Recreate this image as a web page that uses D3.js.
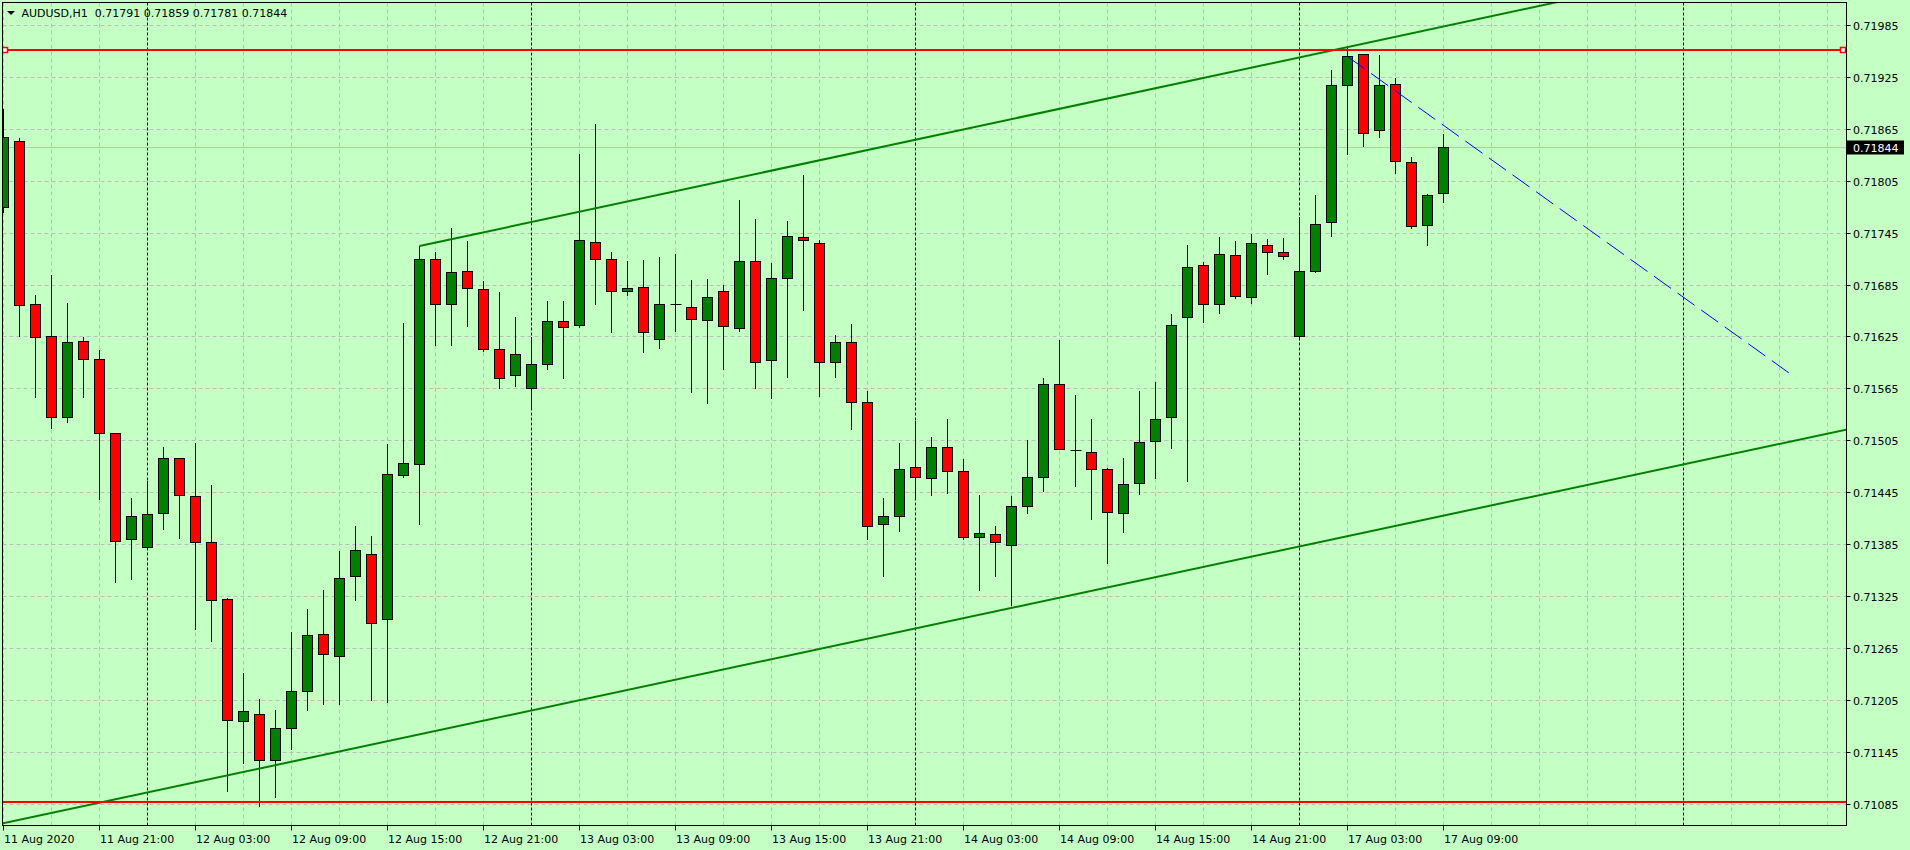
<!DOCTYPE html>
<html><head><meta charset="utf-8">
<script src="https://cdn.jsdelivr.net/npm/d3@7"></script>
<style>html,body{margin:0;padding:0;background:#c4ffc4;overflow:hidden}svg{display:block}</style>
</head><body><svg id="chart" width="1910" height="850"></svg>
<script>
// ---------------- DATA ----------------
const symbolTitle = "AUDUSD,H1";
const times = [
"2020-08-11 15:00","2020-08-11 16:00","2020-08-11 17:00","2020-08-11 18:00","2020-08-11 19:00","2020-08-11 20:00","2020-08-11 21:00","2020-08-11 22:00","2020-08-11 23:00",
"2020-08-12 00:00","2020-08-12 01:00","2020-08-12 02:00","2020-08-12 03:00","2020-08-12 04:00","2020-08-12 05:00","2020-08-12 06:00","2020-08-12 07:00","2020-08-12 08:00","2020-08-12 09:00","2020-08-12 10:00","2020-08-12 11:00","2020-08-12 12:00","2020-08-12 13:00","2020-08-12 14:00","2020-08-12 15:00","2020-08-12 16:00","2020-08-12 17:00","2020-08-12 18:00","2020-08-12 19:00","2020-08-12 20:00","2020-08-12 21:00","2020-08-12 22:00","2020-08-12 23:00",
"2020-08-13 00:00","2020-08-13 01:00","2020-08-13 02:00","2020-08-13 03:00","2020-08-13 04:00","2020-08-13 05:00","2020-08-13 06:00","2020-08-13 07:00","2020-08-13 08:00","2020-08-13 09:00","2020-08-13 10:00","2020-08-13 11:00","2020-08-13 12:00","2020-08-13 13:00","2020-08-13 14:00","2020-08-13 15:00","2020-08-13 16:00","2020-08-13 17:00","2020-08-13 18:00","2020-08-13 19:00","2020-08-13 20:00","2020-08-13 21:00","2020-08-13 22:00","2020-08-13 23:00",
"2020-08-14 00:00","2020-08-14 01:00","2020-08-14 02:00","2020-08-14 03:00","2020-08-14 04:00","2020-08-14 05:00","2020-08-14 06:00","2020-08-14 07:00","2020-08-14 08:00","2020-08-14 09:00","2020-08-14 10:00","2020-08-14 11:00","2020-08-14 12:00","2020-08-14 13:00","2020-08-14 14:00","2020-08-14 15:00","2020-08-14 16:00","2020-08-14 17:00","2020-08-14 18:00","2020-08-14 19:00","2020-08-14 20:00","2020-08-14 21:00","2020-08-14 22:00","2020-08-14 23:00",
"2020-08-17 00:00","2020-08-17 01:00","2020-08-17 02:00","2020-08-17 03:00","2020-08-17 04:00","2020-08-17 05:00","2020-08-17 06:00","2020-08-17 07:00","2020-08-17 08:00","2020-08-17 09:00"];

const open = [0.71774,0.71851,0.71662,0.71626,0.71532,0.71620,0.71599,0.71513,0.71391,0.71382,
0.71421,0.71484,0.71441,0.71387,0.71322,0.71181,0.71189,0.71135,0.71172,0.71215,
0.71281,0.71256,0.71348,0.71374,0.71298,0.71465,0.71478,0.71714,0.71662,0.71701,
0.71680,0.71610,0.71580,0.71565,0.71593,0.71643,0.71638,0.71734,0.71715,0.71678,
0.71682,0.71622,0.71662,0.71659,0.71644,0.71677,0.71635,0.71712,0.71598,0.71692,
0.71740,0.71733,0.71595,0.71619,0.71549,0.71408,0.71417,0.71474,0.71461,0.71497,
0.71469,0.71393,0.71397,0.71384,0.71429,0.71463,0.71570,0.71494,0.71491,0.71472,
0.71421,0.71456,0.71504,0.71532,0.71647,0.71707,0.71662,0.71719,0.71671,0.71731,
0.71722,0.71625,0.71701,0.71757,0.71916,0.71951,0.71863,0.71917,0.71827,0.71754,0.71791];
const high = [0.71888,0.71855,0.71674,0.71697,0.71664,0.71625,0.71610,0.71514,0.71439,0.71459,
0.71498,0.71485,0.71502,0.71454,0.71323,0.71237,0.71206,0.71194,0.71284,0.71311,
0.71333,0.71378,0.71407,0.71395,0.71501,0.71641,0.71730,0.71723,0.71751,0.71736,
0.71690,0.71677,0.71648,0.71625,0.71667,0.71667,0.71836,0.71871,0.71723,0.71713,
0.71714,0.71717,0.71721,0.71691,0.71692,0.71685,0.71783,0.71761,0.71710,0.71759,
0.71812,0.71737,0.71627,0.71640,0.71563,0.71439,0.71502,0.71528,0.71509,0.71530,
0.71484,0.71442,0.71407,0.71441,0.71506,0.71578,0.71621,0.71558,0.71530,0.71474,
0.71485,0.71562,0.71573,0.71651,0.71731,0.71712,0.71741,0.71736,0.71744,0.71738,
0.71739,0.71764,0.71789,0.71933,0.71959,0.71952,0.71951,0.71924,0.71833,0.71790,0.71859];
const low = [0.71769,0.71626,0.71556,0.71520,0.71527,0.71556,0.71438,0.71342,0.71345,0.71380,
0.71403,0.71393,0.71287,0.71274,0.71100,0.71133,0.71083,0.71093,0.71149,0.71194,
0.71201,0.71201,0.71321,0.71205,0.71203,0.71463,0.71409,0.71616,0.71616,0.71638,
0.71609,0.71566,0.71568,0.71544,0.71588,0.71577,0.71636,0.71663,0.71631,0.71673,
0.71607,0.71612,0.71632,0.71561,0.71549,0.71588,0.71632,0.71566,0.71554,0.71579,
0.71656,0.71557,0.71579,0.71519,0.71391,0.71349,0.71401,0.71439,0.71442,0.71445,
0.71391,0.71333,0.71349,0.71315,0.71422,0.71447,0.71495,0.71453,0.71415,0.71364,
0.71400,0.71444,0.71462,0.71497,0.71458,0.71642,0.71653,0.71670,0.71664,0.71698,
0.71715,0.71623,0.71700,0.71742,0.71836,0.71846,0.71856,0.71814,0.71751,0.71731,0.71781];
const close = [0.71855,0.71661,0.71624,0.71532,0.71619,0.71599,0.71513,0.71389,0.71417,0.71420,
0.71484,0.71442,0.71387,0.71320,0.71182,0.71192,0.71135,0.71173,0.71215,0.71280,
0.71258,0.71346,0.71378,0.71294,0.71466,0.71479,0.71714,0.71662,0.71700,0.71681,
0.71610,0.71577,0.71605,0.71593,0.71643,0.71636,0.71736,0.71714,0.71677,0.71681,
0.71630,0.71663,0.71662,0.71645,0.71671,0.71637,0.71712,0.71595,0.71693,0.71741,
0.71736,0.71596,0.71619,0.71549,0.71406,0.71418,0.71472,0.71462,0.71497,0.71470,
0.71393,0.71398,0.71388,0.71429,0.71462,0.71570,0.71495,0.71494,0.71472,0.71422,
0.71454,0.71503,0.71530,0.71638,0.71705,0.71662,0.71720,0.71672,0.71733,0.71723,
0.71718,0.71701,0.71755,0.71916,0.71949,0.71860,0.71916,0.71828,0.71753,0.71788,0.71844];

const priceTicks = [0.71085,0.71145,0.71205,0.71265,0.71325,0.71385,0.71445,0.71505,0.71565,0.71625,0.71685,0.71745,0.71805,0.71865,0.71925,0.71985];
const timeTickLabels = ["11 Aug 2020","11 Aug 21:00","12 Aug 03:00","12 Aug 09:00","12 Aug 15:00","12 Aug 21:00","13 Aug 03:00","13 Aug 09:00","13 Aug 15:00","13 Aug 21:00","14 Aug 03:00","14 Aug 09:00","14 Aug 15:00","14 Aug 21:00","17 Aug 03:00","17 Aug 09:00"];
const timeTickTimes = ["2020-08-11 15:00","2020-08-11 21:00","2020-08-12 03:00","2020-08-12 09:00","2020-08-12 15:00","2020-08-12 21:00","2020-08-13 03:00","2020-08-13 09:00","2020-08-13 15:00","2020-08-13 21:00","2020-08-14 03:00","2020-08-14 09:00","2020-08-14 15:00","2020-08-14 21:00","2020-08-17 03:00","2020-08-17 09:00"];

const horizontalLevels = [0.71957, 0.71087];          // red horizontal lines
const upperTrend = [[26, 0.71730], [84, 0.71960]];    // [bar index, price]
const lowerTrend = [[0, 0.71063], [100, 0.71458]];
const blueTrend  = [[84, 0.71949], [112, 0.71578]];
const currentPrice = 0.71844;

// ---------------- LAYOUT ----------------
const W = 1910, H = 850;
const plot = {l: 2.5, t: 2.5, r: 1846.5, b: 825.5};
const barStep = 16, halfBody = 5;
const C = {bg:"#c4ffc4", up:"#008000", down:"#ff0000", grid:"#bcbcbc", frame:"#000"};

const svg = d3.select("#chart");
svg.append("rect").attr("width", W).attr("height", H).attr("fill", C.bg);

const x = d3.scaleLinear().domain([0, 1]).range([3.5, 3.5 + barStep]);
const y = d3.scaleLinear().domain([0.71085, 0.71985]).range([804.2, 25.4]);
const px = v => Math.round(v - 0.5) + 0.5;

svg.append("defs").append("clipPath").attr("id", "clip")
  .append("rect").attr("x", plot.l).attr("y", plot.t)
  .attr("width", plot.r - plot.l).attr("height", plot.b - plot.t);

const g = svg.append("g").attr("clip-path", "url(#clip)");

// grid: horizontal
g.selectAll("line.hg").data(priceTicks).join("line")
  .attr("x1", plot.l).attr("x2", plot.r)
  .attr("y1", d => px(y(d))).attr("y2", d => px(y(d)))
  .attr("stroke", C.grid).attr("stroke-dasharray", "4,3");

// vertical grid every 3 bars; day separators at midnight bars
const parse = d3.timeParse("%Y-%m-%d %H:%M");
const tDates = times.map(parse);
const sepIdx = tDates.map((d, i) => d.getHours() === 0 ? i : -1).filter(i => i >= 0);
sepIdx.push(sepIdx[sepIdx.length - 1] + 24);
const maxIdx = Math.floor((plot.r - 3.5) / barStep);
const vIdx = d3.range(0, maxIdx + 1, 3).filter(i => !sepIdx.includes(i));
g.selectAll("line.vg").data(vIdx).join("line")
  .attr("x1", d => x(d)).attr("x2", d => x(d))
  .attr("y1", plot.t).attr("y2", plot.b)
  .attr("stroke", C.grid).attr("stroke-dasharray", "4,3");
g.selectAll("line.sep").data(sepIdx).join("line")
  .attr("x1", d => x(d)).attr("x2", d => x(d))
  .attr("y1", plot.t).attr("y2", plot.b)
  .attr("stroke", "#000").attr("stroke-dasharray", "3,2");

// current price line
g.append("line").attr("x1", plot.l).attr("x2", plot.r)
  .attr("y1", px(y(currentPrice))).attr("y2", px(y(currentPrice)))
  .attr("stroke", "#c0c0c0");

// candles
const bars = d3.range(times.length).map(i => ({i, o: open[i], h: high[i], l: low[i], c: close[i]}));
const cg = g.append("g");
cg.selectAll("line.wick").data(bars).join("line")
  .attr("x1", d => x(d.i)).attr("x2", d => x(d.i))
  .attr("y1", d => Math.round(y(d.h))).attr("y2", d => Math.round(y(d.l)) + 1)
  .attr("stroke", "#000").attr("stroke-width", 1);
bars.forEach(d => {
  const yt = px(y(Math.max(d.o, d.c))), yb = px(y(Math.min(d.o, d.c)));
  const cx = x(d.i);
  if (yb - yt < 1) {
    cg.append("line").attr("x1", cx - halfBody).attr("x2", cx + halfBody + 1)
      .attr("y1", yt).attr("y2", yt).attr("stroke", "#000");
  } else {
    cg.append("rect").attr("x", cx - halfBody).attr("y", yt)
      .attr("width", halfBody * 2).attr("height", yb - yt)
      .attr("fill", d.c > d.o ? C.up : C.down)
      .attr("stroke", "#000").attr("stroke-width", 1);
  }
});

// trend lines (through two anchors, extended)
function lineThrough(a, b, i0, i1) {
  const s = (b[1] - a[1]) / (b[0] - a[0]);
  return [[i0, a[1] + s * (i0 - a[0])], [i1, a[1] + s * (i1 - a[0])]];
}
const upSeg = lineThrough(upperTrend[0], upperTrend[1], upperTrend[0][0], 140);
const loSeg = lineThrough(lowerTrend[0], lowerTrend[1], -10, 140);
const ln = d3.line().x(d => x(d[0])).y(d => y(d[1]));
g.append("path").attr("d", ln(upSeg)).attr("stroke", C.up).attr("stroke-width", 2).attr("fill", "none");
g.append("path").attr("d", ln(loSeg)).attr("stroke", C.up).attr("stroke-width", 2).attr("fill", "none");
g.append("path").attr("d", ln(blueTrend)).attr("stroke", "#0000ff").attr("stroke-width", 1)
  .attr("stroke-dasharray", "21,8").attr("fill", "none");

// red horizontal lines
g.selectAll("line.hl").data(horizontalLevels).join("line")
  .attr("x1", plot.l).attr("x2", plot.r)
  .attr("y1", d => Math.round(y(d))).attr("y2", d => Math.round(y(d)))
  .attr("stroke", C.down).attr("stroke-width", 2);
// selection markers on the upper level
[5, 1843].forEach(mx => {
  g.append("rect").attr("x", mx - 2.5).attr("y", Math.round(y(horizontalLevels[0])) - 2.5)
    .attr("width", 5).attr("height", 5).attr("fill", "#fff")
    .attr("stroke", C.down).attr("stroke-width", 1.5);
});

// frame
svg.append("rect").attr("x", plot.l).attr("y", plot.t)
  .attr("width", plot.r - plot.l).attr("height", plot.b - plot.t)
  .attr("fill", "none").attr("stroke", C.frame).attr("stroke-width", 1);

// price axis
const fmt = d3.format(".5f");
const ax = svg.append("g").attr("font-family", "DejaVu Sans").attr("font-size", "11px").attr("fill", "#000");
priceTicks.forEach(p => {
  const yy = px(y(p));
  ax.append("line").attr("x1", plot.r).attr("x2", plot.r + 4).attr("y1", yy).attr("y2", yy).attr("stroke", "#000");
  ax.append("text").attr("x", 1853).attr("y", yy + 4).text(fmt(p));
});
// current price tag
const cy = px(y(currentPrice));
ax.append("rect").attr("x", 1847).attr("y", cy - 7).attr("width", 57).attr("height", 14).attr("fill", "#000");
ax.append("text").attr("x", 1853).attr("y", cy + 4).attr("fill", "#fff").text(fmt(currentPrice));

// time axis
timeTickTimes.forEach((t, k) => {
  const idx = times.indexOf(t);
  const xx = x(idx);
  ax.append("line").attr("x1", xx).attr("x2", xx).attr("y1", plot.b).attr("y2", plot.b + 5).attr("stroke", "#000");
  ax.append("text").attr("x", xx + 0.5).attr("y", 843).text(timeTickLabels[k]);
});

// title
svg.append("path").attr("d", "M7,11 L15,11 L11,15 Z").attr("fill", "#000");
svg.append("text").attr("x", 21.5).attr("y", 17).attr("font-family", "DejaVu Sans").attr("font-size", "11px")
  .attr("fill", "#000").attr("xml:space", "preserve")
  .text(symbolTitle + "  " + [open, high, low, close].map(a => fmt(a[a.length - 1])).join(" "));
</script></body></html>
